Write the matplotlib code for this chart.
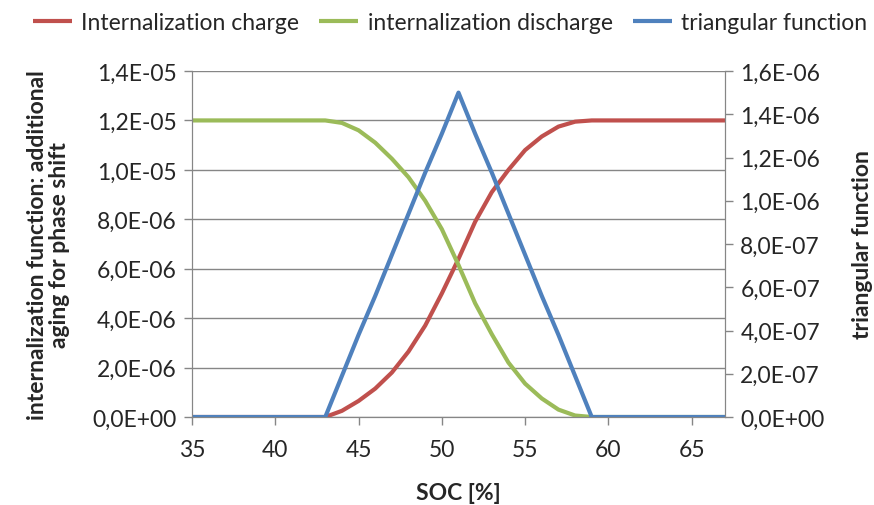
import matplotlib.pyplot as plt
from matplotlib.ticker import FuncFormatter, MultipleLocator

plt.rcParams['font.family'] = ['Lato', 'DejaVu Sans']

soc = list(range(35, 68))

charge = [0, 0, 0, 0, 0, 0, 0, 0, 0,
          2.5e-7, 6.5e-7, 1.15e-6, 1.8e-6, 2.65e-6, 3.7e-6, 5.0e-6, 6.4e-6,
          7.9e-6, 9.1e-6, 1.0e-5, 1.08e-5, 1.135e-5, 1.175e-5, 1.195e-5,
          1.2e-5, 1.2e-5, 1.2e-5, 1.2e-5, 1.2e-5, 1.2e-5, 1.2e-5, 1.2e-5, 1.2e-5]

discharge = [1.2e-5, 1.2e-5, 1.2e-5, 1.2e-5, 1.2e-5, 1.2e-5, 1.2e-5, 1.2e-5, 1.2e-5,
             1.19e-5, 1.16e-5, 1.11e-5, 1.045e-5, 9.7e-6, 8.75e-6, 7.6e-6, 6.15e-6,
             4.6e-6, 3.35e-6, 2.2e-6, 1.35e-6, 7.5e-7, 3.0e-7, 6e-8,
             0, 0, 0, 0, 0, 0, 0, 0, 0]

triangle = [0, 0, 0, 0, 0, 0, 0, 0, 0,
            1.9e-7, 3.8e-7, 5.6e-7, 7.5e-7, 9.4e-7, 1.13e-6, 1.31e-6, 1.5e-6,
            1.31e-6, 1.13e-6, 9.4e-7, 7.5e-7, 5.6e-7, 3.8e-7, 1.9e-7,
            0, 0, 0, 0, 0, 0, 0, 0, 0]

RED = '#C0504D'
GREEN = '#9BBB59'
BLUE = '#4F81BD'
GRAY = '#868686'
TXT = '#262626'
FS = 16.5


def sci_comma(v, pos):
    return f"{v:.1E}".replace('.', ',')


fig = plt.figure(figsize=(8.74, 5.06), dpi=100)
ax = fig.add_axes([0.2197, 0.1739, 0.6098, 0.6838])
ax2 = ax.twinx()

l1, = ax.plot(soc, charge, color=RED, lw=3, solid_capstyle='butt')
l2, = ax.plot(soc, discharge, color=GREEN, lw=3, solid_capstyle='butt')
l3, = ax2.plot(soc, triangle, color=BLUE, lw=3, solid_capstyle='butt')

ax.set_xlim(35, 67)
ax.set_ylim(0, 1.4e-5)
ax2.set_ylim(0, 1.6e-6)
ax.xaxis.set_major_locator(MultipleLocator(5))
ax.yaxis.set_major_locator(MultipleLocator(2e-6))
ax2.yaxis.set_major_locator(MultipleLocator(2e-7))
ax.yaxis.set_major_formatter(FuncFormatter(sci_comma))
ax2.yaxis.set_major_formatter(FuncFormatter(sci_comma))

ax.grid(axis='y', color=GRAY, lw=1)
ax.set_axisbelow(True)

for a in (ax, ax2):
    for side in a.spines:
        a.spines[side].set_color(GRAY)
    a.spines['top'].set_visible(False)
    a.tick_params(colors=GRAY, labelcolor=TXT, labelsize=FS, length=6, width=1,
                  direction='out', pad=5)
ax.tick_params(axis='x', pad=10)

ax.set_xlabel('SOC [%]', fontsize=FS, fontweight='bold', color=TXT, labelpad=16)
ax.set_ylabel('internalization function: additional\naging for phase shift',
              fontsize=FS, fontweight='bold', color=TXT, labelpad=16,
              linespacing=1.1)
ax2.set_ylabel('triangular function', fontsize=FS, fontweight='bold', color=TXT,
               labelpad=20)

fig.legend([l1, l2, l3],
           ['Internalization charge', 'internalization discharge', 'triangular function'],
           loc='upper center', bbox_to_anchor=(0.515, 1.015), ncol=3, frameon=False,
           fontsize=FS, handlelength=1.7, handletextpad=0.4, columnspacing=0.9,
           labelcolor=TXT)

fig.savefig('out.png', dpi=100)
